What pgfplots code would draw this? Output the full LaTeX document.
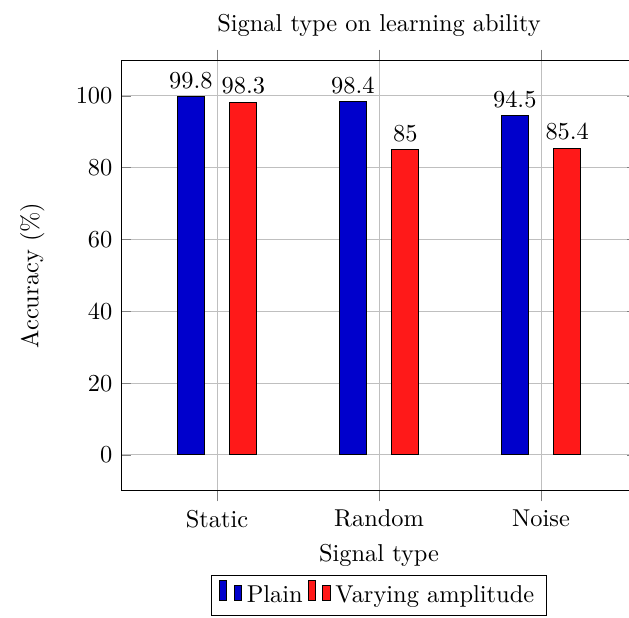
\documentclass[border=0pt]{standalone}
\usepackage{pgfplots}
\pgfplotsset{compat=1.18}
\begin{document}
\begin{tikzpicture}
\begin{axis}[
  name=ax,
  width=211.5pt, height=176.6pt, scale only axis,
  ybar=10.5pt, bar width=11pt,
  xmin=-0.593, xmax=2.593,
  ymin=-10, ymax=110,
  xtick={0,1,2}, xticklabels={Static,Random,Noise},
  ytick={0,20,40,60,80,100},
  grid=major,
  title={Signal type on learning ability},
  xlabel={Signal type},
  ylabel={Accuracy (\%)},
  ylabel shift=6pt,
  nodes near coords,
  legend style={at={(0.5,-0.195)}, anchor=north, legend columns=-1},
]
\addplot[fill=blue!80!black, draw=black] coordinates {(0,99.8) (1,98.4) (2,94.5)};
\addplot[fill=red!90!white, draw=black] coordinates {(0,98.3) (1,85) (2,85.4)};
\legend{Plain,Varying amplitude}
\end{axis}
\pgfresetboundingbox
\path[use as bounding box] ([shift={(-49.6pt,-52pt)}]ax.south west) rectangle ([shift={(208.2pt,201.2pt)}]ax.south west);
\end{tikzpicture}
\end{document}
